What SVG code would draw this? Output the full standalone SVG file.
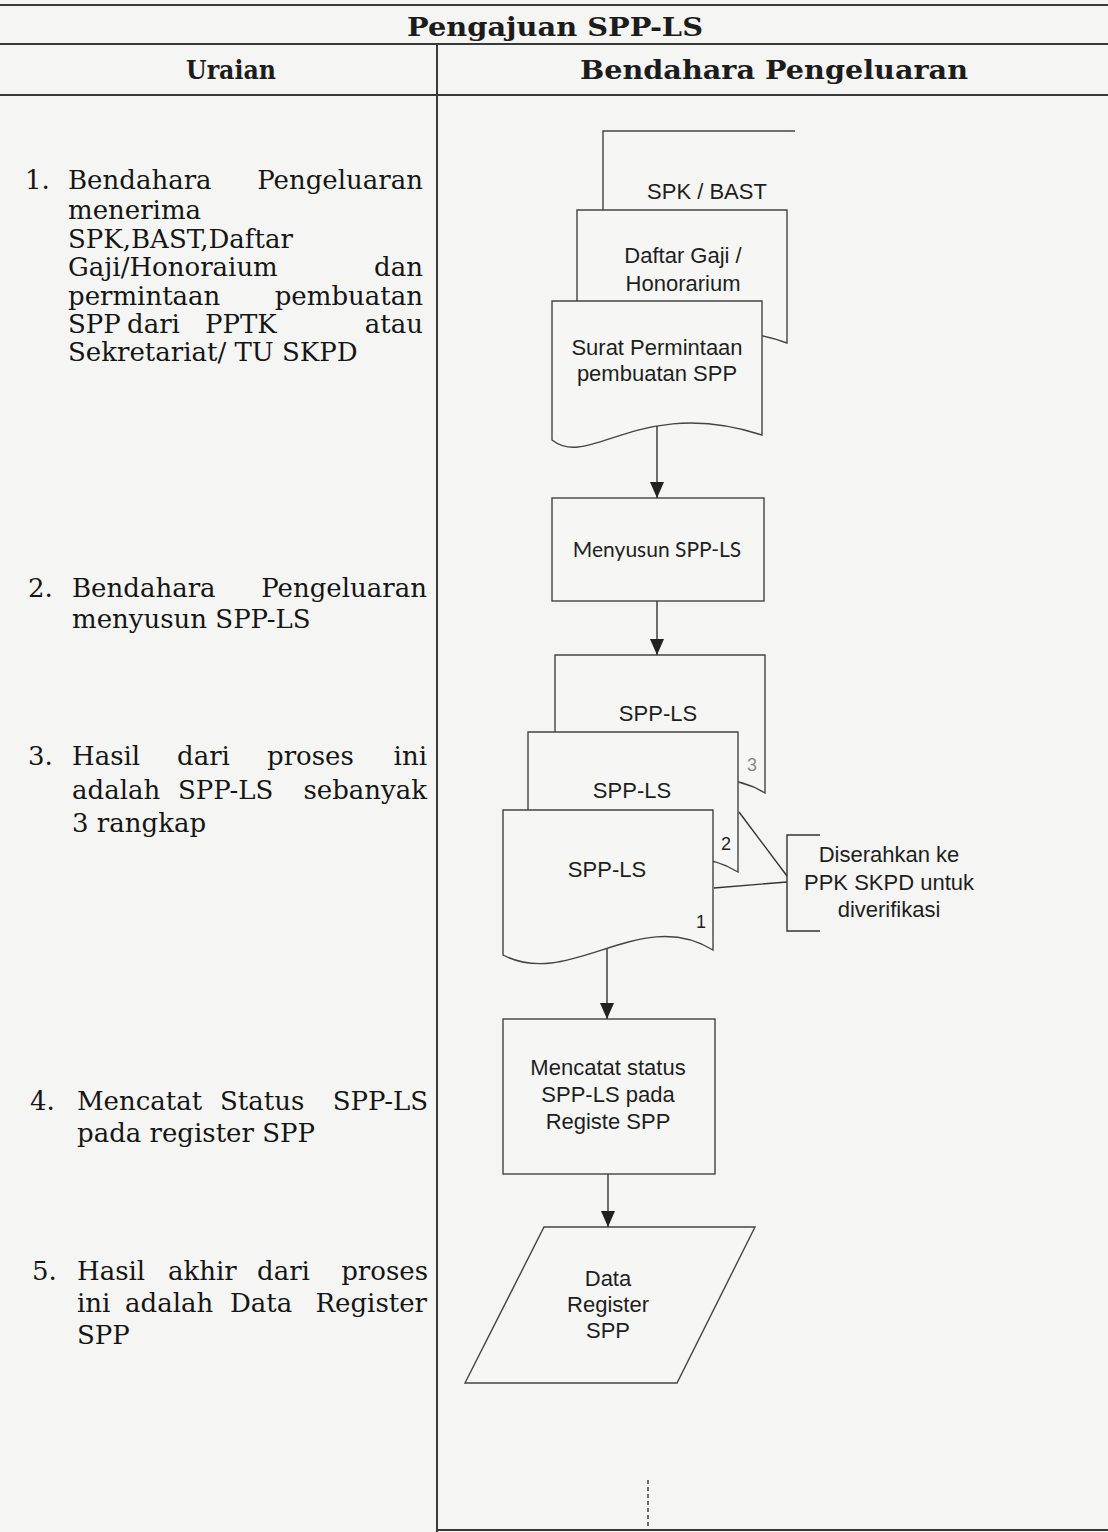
<svg xmlns="http://www.w3.org/2000/svg" width="1108" height="1532" viewBox="0 0 1108 1532">
<style>
.hdr{font-family:"DejaVu Serif","Liberation Serif",serif;font-weight:bold;font-size:26px;fill:#1c1c1c}
.body{font-family:"DejaVu Serif","Liberation Serif",serif;font-size:26px;fill:#151515}
.end{text-anchor:end}
.lbl{font-family:"Liberation Sans",Arial,sans-serif;font-size:22px;fill:#1e1e1e;text-anchor:middle}
.cal{font-family:Lato,"Liberation Sans",sans-serif;font-size:21px;fill:#222;text-anchor:middle}
.num{font-family:"Liberation Sans",Arial,sans-serif;font-size:18px;fill:#222;text-anchor:middle}
.faint{fill:#888}
.rule{stroke:#3a3a3a;stroke-width:2;fill:none}
.shape{fill:#f6f6f4;stroke:#444;stroke-width:1.4}
.conn{stroke:#333;stroke-width:1.4;fill:none}
</style>
<defs>
<marker id="ah" markerUnits="userSpaceOnUse" markerWidth="16" markerHeight="14" refX="16" refY="7" orient="auto">
<path d="M0,0 L16,7 L0,14 Z" fill="#222"/>
</marker>
</defs>
<rect x="0" y="0" width="1108" height="1532" fill="#f5f5f3"/>

<g id="table">
<line class="rule" x1="0" y1="5" x2="1108" y2="5"/>
<line class="rule" x1="0" y1="44" x2="1108" y2="44"/>
<line class="rule" x1="0" y1="95" x2="1108" y2="95"/>
<line class="rule" x1="437" y1="44" x2="437" y2="1532"/>
<line class="rule" x1="437" y1="1530" x2="1108" y2="1530"/>
<text class="hdr" x="407" y="36" textLength="296" lengthAdjust="spacingAndGlyphs">Pengajuan SPP-LS</text>
<text class="hdr" x="186" y="79" textLength="90" lengthAdjust="spacingAndGlyphs">Uraian</text>
<text class="hdr" x="580" y="79" textLength="388" lengthAdjust="spacingAndGlyphs">Bendahara Pengeluaran</text>
</g>

<g id="uraian">
<text class="body" x="25" y="189">1.</text>
<text class="body" x="68" y="189">Bendahara</text>
<text class="body end" x="423" y="189">Pengeluaran</text>
<text class="body" x="68" y="219">menerima</text>
<text class="body" x="68" y="248">SPK,BAST,Daftar</text>
<text class="body" x="68" y="276">Gaji/Honoraium</text>
<text class="body end" x="423" y="276">dan</text>
<text class="body" x="68" y="305">permintaan</text>
<text class="body end" x="423" y="305">pembuatan</text>
<text class="body" x="68" y="333">SPP</text>
<text class="body" x="127" y="333">dari</text>
<text class="body" x="205" y="333">PPTK</text>
<text class="body end" x="423" y="333">atau</text>
<text class="body" x="68" y="361">Sekretariat/ TU SKPD</text>

<text class="body" x="28" y="597">2.</text>
<text class="body" x="72" y="597">Bendahara</text>
<text class="body end" x="427" y="597">Pengeluaran</text>
<text class="body" x="72" y="628">menyusun SPP-LS</text>

<text class="body" x="28" y="765">3.</text>
<text class="body" x="72" y="765">Hasil</text>
<text class="body" x="177" y="765">dari</text>
<text class="body" x="267" y="765">proses</text>
<text class="body end" x="427" y="765">ini</text>
<text class="body" x="72" y="799">adalah</text>
<text class="body" x="178" y="799">SPP-LS</text>
<text class="body end" x="427" y="799">sebanyak</text>
<text class="body" x="72" y="832">3 rangkap</text>

<text class="body" x="30" y="1110">4.</text>
<text class="body" x="77" y="1110">Mencatat</text>
<text class="body" x="220" y="1110">Status</text>
<text class="body end" x="428" y="1110">SPP-LS</text>
<text class="body" x="77" y="1142">pada register SPP</text>

<text class="body" x="32" y="1280">5.</text>
<text class="body" x="77" y="1280">Hasil</text>
<text class="body" x="168" y="1280">akhir</text>
<text class="body" x="257" y="1280">dari</text>
<text class="body end" x="428" y="1280">proses</text>
<text class="body" x="77" y="1312">ini</text>
<text class="body" x="125" y="1312">adalah</text>
<text class="body" x="230" y="1312">Data</text>
<text class="body end" x="427" y="1312">Register</text>
<text class="body" x="77" y="1344">SPP</text>
</g>

<g id="doc-spk-bast">
<path class="shape" d="M603,210 V131 H795" fill="none"/>
<text class="lbl" x="707" y="199">SPK / BAST</text>
</g>
<g id="doc-daftar-gaji">
<path class="shape" d="M577,210 H787 V343 C740,325 680,330 640,345 C610,356 590,352 577,348 Z"/>
<text class="lbl" x="683" y="263">Daftar Gaji /</text>
<text class="lbl" x="683" y="291">Honorarium</text>
</g>
<g id="doc-surat">
<path class="shape" d="M552,301 H762 V435 C640,395 590,470 552,440 Z"/>
<text class="lbl" x="657" y="355">Surat Permintaan</text>
<text class="lbl" x="657" y="381">pembuatan SPP</text>
</g>

<g id="proc-menyusun">
<rect class="shape" x="552" y="498" width="212" height="103"/>
<text class="cal" x="657" y="557">Menyusun SPP-LS</text>
</g>

<g id="doc-spp3">
<path class="shape" d="M555,655 H765 V793 C692,748 622,833 555,798 Z"/>
<text class="lbl" x="658" y="721">SPP-LS</text>
<text class="num faint" x="752" y="771">3</text>
</g>
<g id="doc-spp2">
<path class="shape" d="M528,732 H738 V872 C665,827 595,912 528,877 Z"/>
<text class="lbl" x="632" y="798">SPP-LS</text>
<text class="num" x="726" y="850">2</text>
</g>
<g id="doc-spp1">
<path class="shape" d="M503,810 H713 V950 C640,905 570,990 503,955 Z"/>
<text class="lbl" x="607" y="877">SPP-LS</text>
<text class="num" x="701" y="928">1</text>
</g>

<g id="note-diserahkan">
<path class="conn" d="M820,835 H787 V931 H820"/>
<text class="lbl" x="889" y="862">Diserahkan ke</text>
<text class="lbl" x="889" y="890">PPK SKPD untuk</text>
<text class="lbl" x="889" y="917">diverifikasi</text>
</g>

<g id="proc-mencatat">
<rect class="shape" x="503" y="1019" width="212" height="155"/>
<text class="lbl" x="608" y="1075">Mencatat status</text>
<text class="lbl" x="608" y="1102">SPP-LS pada</text>
<text class="lbl" x="608" y="1129">Registe SPP</text>
</g>

<g id="data-register">
<polygon class="shape" points="544,1227 755,1227 677,1383 465,1383"/>
<text class="lbl" x="608" y="1286">Data</text>
<text class="lbl" x="608" y="1312">Register</text>
<text class="lbl" x="608" y="1338">SPP</text>
</g>

<g id="connectors">
<line class="conn" x1="657" y1="426" x2="657" y2="498" marker-end="url(#ah)"/>
<line class="conn" x1="657" y1="601" x2="657" y2="655" marker-end="url(#ah)"/>
<line class="conn" x1="607" y1="949" x2="607" y2="1019" marker-end="url(#ah)"/>
<line class="conn" x1="608" y1="1174" x2="608" y2="1227" marker-end="url(#ah)"/>
<line class="conn" x1="739" y1="812" x2="787" y2="876"/>
<line class="conn" x1="714" y1="888" x2="787" y2="882"/>
<line class="conn" x1="648" y1="1480" x2="648" y2="1530" stroke-dasharray="4 3"/>
</g>
</svg>
